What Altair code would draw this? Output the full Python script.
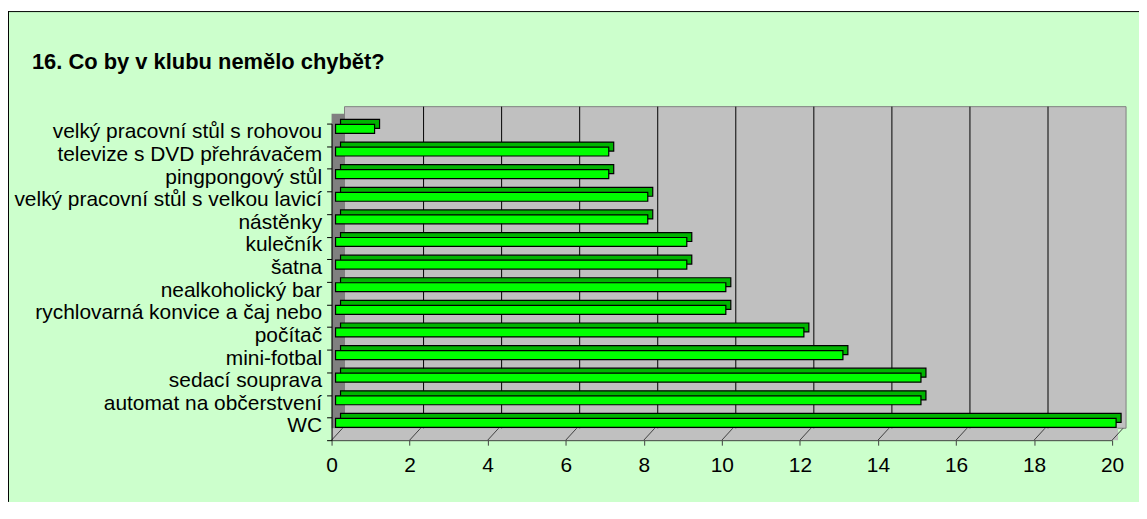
import altair as alt
import pandas as pd

# ---- data ----
categories = [
    "velký pracovní stůl s rohovou",
    "televize s DVD přehrávačem",
    "pingpongový stůl",
    "velký pracovní stůl s velkou lavicí",
    "nástěnky",
    "kulečník",
    "šatna",
    "nealkoholický bar",
    "rychlovarná konvice a čaj nebo",
    "počítač",
    "mini-fotbal",
    "sedací souprava",
    "automat na občerstvení",
    "WC",
]
counts = [1, 7, 7, 8, 8, 9, 9, 10, 10, 12, 13, 15, 15, 20]
x_ticks = [0, 2, 4, 6, 8, 10, 12, 14, 16, 18, 20]
grid_values = [2, 4, 6, 8, 10, 12, 14, 16, 18]
title_text = "16. Co by v klubu nemělo chybět?"

FONT = "Liberation Sans"
W, H = 784, 318
PAD = {"left": 325, "top": 115, "right": 27, "bottom": 62}

bars_df = pd.DataFrame({"item": categories, "value": counts, "base": [0] * len(counts)})
grid_df = pd.DataFrame({"value": grid_values})
tick_df = pd.DataFrame({"value": x_ticks})
one = pd.DataFrame({"k": [0]})

xscale = alt.Scale(domain=[0, 20], nice=False)
xaxis = alt.Axis(
    values=x_ticks, title=None, grid=False, labelFont=FONT, labelFontSize=21,
    labelColor="black", domainColor="#404040", tickColor="#404040", tickSize=5,
    labelPadding=9, labelFlush=False, zindex=2,
)
yaxis = alt.Axis(
    title=None, grid=False, labelFont=FONT, labelFontSize=21, labelColor="black",
    domainColor="black", tickColor="black", tickSize=5, labelPadding=5,
    tickBand="extent", labelOffset=-3, labelLimit=400, zindex=2,
)
yscale = alt.Scale(paddingInner=0, paddingOuter=0)

# frame (green panel with top / left border)
panel = alt.Chart(one).mark_rect(fill="#CCFFCC").encode(
    x=alt.value(-PAD["left"]), x2=alt.value(W + PAD["right"]),
    y=alt.value(-113), y2=alt.value(H + PAD["bottom"]),
)
border_top = alt.Chart(one).mark_rule(color="black", strokeWidth=1).encode(
    x=alt.value(-PAD["left"]), x2=alt.value(W + PAD["right"]), y=alt.value(-112.5)
)
border_left = alt.Chart(one).mark_rule(color="black", strokeWidth=1).encode(
    x=alt.value(-PAD["left"] + 0.5), y=alt.value(-113), y2=alt.value(H + PAD["bottom"])
)

# pseudo-3D walls
back_wall = alt.Chart(one).mark_rect(fill="#C0C0C0", stroke="#808080", strokeWidth=1).encode(
    x=alt.value(13), x2=alt.value(W + 14), y=alt.value(-17), y2=alt.value(306)
)
floor = alt.Chart(one).mark_rect(fill="#C0C0C0").encode(
    x=alt.value(0), x2=alt.value(W + 6), y=alt.value(306), y2=alt.value(H)
)
side_wall = alt.Chart(one).mark_rect(fill="#808080").encode(
    x=alt.value(0), x2=alt.value(13), y=alt.value(-10), y2=alt.value(306)
)

gridlines = alt.Chart(grid_df).mark_rule(color="black", strokeWidth=1, xOffset=14).encode(
    x=alt.X("value:Q", scale=xscale, axis=xaxis), y=alt.value(-17), y2=alt.value(306)
)
floor_lines = alt.Chart(tick_df).mark_rule(color="#404040", strokeWidth=1, x2Offset=11).encode(
    x=alt.X("value:Q", scale=xscale, axis=xaxis), x2="value:Q",
    y=alt.value(H), y2=alt.value(306),
)

back_bars = alt.Chart(bars_df).mark_bar(
    size=9, xOffset=9, x2Offset=9, yOffset=-11, y2Offset=-11,
    fill="#00B400", stroke="black", strokeWidth=1.2,
).encode(
    x=alt.X("base:Q", scale=xscale, axis=xaxis, stack=None),
    x2="value:Q",
    y=alt.Y("item:N", sort=categories, scale=yscale, axis=yaxis),
)
front_bars = alt.Chart(bars_df).mark_bar(
    size=9, xOffset=4, x2Offset=4, yOffset=-6, y2Offset=-6,
    fill="#00FF00", stroke="black", strokeWidth=1.2,
).encode(
    x=alt.X("base:Q", scale=xscale, axis=xaxis, stack=None),
    x2="value:Q",
    y=alt.Y("item:N", sort=categories, scale=yscale, axis=yaxis),
    tooltip=["item:N", "value:Q"],
)

title = alt.Chart(one).mark_text(
    text=title_text, align="left", baseline="alphabetic", font=FONT,
    fontSize=22, fontWeight="bold", color="black",
).encode(x=alt.value(-301), y=alt.value(-55))

chart = alt.layer(
    panel, border_top, border_left, back_wall, floor, side_wall,
    gridlines, floor_lines, back_bars, front_bars, title,
).properties(
    width=W, height=H,
    autosize=alt.AutoSizeParams(type="none"),
    padding=PAD,
    background="white",
).configure_view(stroke=None)

chart.save("out.html", embed_options={"renderer": "svg", "actions": False})
